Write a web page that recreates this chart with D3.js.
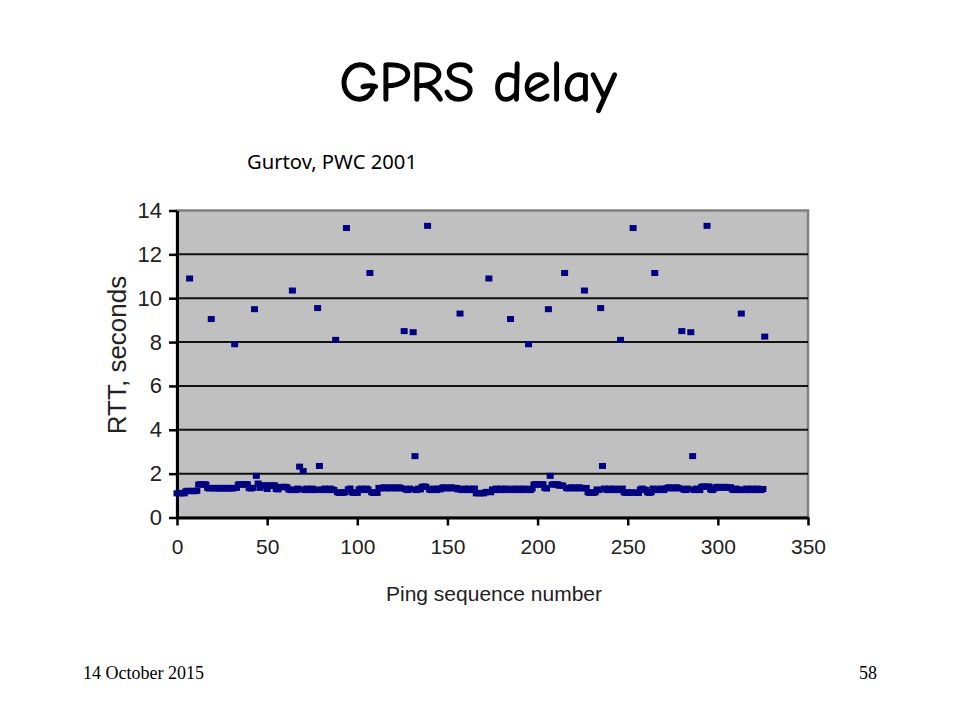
<!DOCTYPE html>
<html>
<head>
<meta charset="utf-8">
<script src="https://cdn.jsdelivr.net/npm/d3@7"></script>
<style>
  html, body { margin: 0; padding: 0; background: #ffffff; }
  svg { display: block; }
</style>
</head>
<body>
<svg id="chart" width="960" height="720"></svg>
<script>
// ---- Data ----
const title = "GPRS delay";
const subtitle = "Gurtov, PWC 2001";
const xLabel = "Ping sequence number";
const yLabel = "RTT, seconds";
const footerDate = "14 October 2015";
const footerPage = "58";

const xTicks = [0, 50, 100, 150, 200, 250, 300, 350];
const yTicks = [0, 2, 4, 6, 8, 10, 12, 14];

// RTT (seconds) for ping sequence numbers 0..326
const rttValues = [
  1.10,1.12,1.10,1.12,1.10,1.20,1.22,10.9,1.20,1.22,
  1.20,1.22,1.50,1.52,1.50,1.52,1.50,1.35,1.32,9.05,
  1.35,1.32,1.35,1.32,1.35,1.32,1.35,1.32,1.35,1.32,
  1.35,1.32,7.9,1.35,1.50,1.52,1.50,1.52,1.50,1.52,
  1.35,1.32,1.35,9.5,1.9,1.55,1.35,1.45,1.47,1.45,
  1.30,1.45,1.47,1.45,1.47,1.30,1.28,1.38,1.40,1.38,
  1.40,1.38,1.28,1.25,10.35,1.28,1.25,1.32,2.32,1.28,
  2.12,1.25,1.32,1.28,1.25,1.32,1.28,1.25,9.55,2.35,
  1.28,1.25,1.32,1.28,1.25,1.32,1.28,1.25,8.1,1.15,
  1.12,1.15,1.12,1.15,13.2,1.28,1.32,1.15,1.12,1.15,
  1.12,1.28,1.32,1.28,1.25,1.32,1.28,11.15,1.15,1.12,
  1.15,1.12,1.35,1.32,1.35,1.38,1.35,1.32,1.35,1.38,
  1.35,1.32,1.35,1.38,1.35,1.32,8.5,1.28,1.25,1.32,
  1.28,8.45,2.8,1.25,1.32,1.28,1.40,1.42,1.40,13.3,
  1.28,1.25,1.32,1.28,1.25,1.32,1.28,1.35,1.38,1.35,
  1.32,1.35,1.38,1.35,1.32,1.35,1.28,9.3,1.25,1.32,
  1.28,1.25,1.32,1.28,1.25,1.32,1.10,1.12,1.10,1.12,
  1.10,1.15,1.17,10.9,1.15,1.28,1.25,1.32,1.28,1.25,
  1.32,1.28,1.25,1.32,1.28,9.05,1.25,1.32,1.28,1.25,
  1.32,1.28,1.25,1.32,1.28,7.9,1.25,1.32,1.50,1.52,
  1.50,1.52,1.50,1.52,1.35,1.32,9.5,1.9,1.50,1.52,
  1.50,1.52,1.45,1.47,1.45,11.15,1.35,1.32,1.35,1.38,
  1.35,1.32,1.35,1.38,1.35,1.32,10.35,1.35,1.15,1.12,
  1.15,1.12,1.15,1.28,1.25,9.55,2.35,1.32,1.28,1.25,
  1.32,1.28,1.25,1.32,1.28,1.25,8.1,1.32,1.15,1.12,
  1.15,1.12,1.15,13.2,1.12,1.15,1.12,1.28,1.32,1.28,
  1.25,1.15,1.12,1.15,1.32,11.15,1.28,1.25,1.32,1.28,
  1.25,1.32,1.35,1.38,1.35,1.32,1.35,1.38,1.35,1.32,
  8.5,1.28,1.25,1.32,1.28,8.45,2.8,1.25,1.32,1.28,
  1.25,1.40,1.42,1.40,13.3,1.42,1.28,1.25,1.32,1.38,
  1.40,1.38,1.35,1.38,1.40,1.38,1.35,1.38,1.28,1.25,
  1.32,1.28,1.25,9.3,1.28,1.25,1.32,1.28,1.25,1.32,
  1.28,1.25,1.32,1.28,1.25,1.30,8.25
];

// ---- Drawing ----
const svg = d3.select("#chart");
const plot = { left: 177, right: 808, top: 210.5, bottom: 517.5 };

const x = d3.scaleLinear().domain([0, 350]).range([plot.left, plot.right]);
const y = d3.scaleLinear().domain([0, 14]).range([plot.bottom, plot.top]);

// Title
svg.append("text")
  .attr("x", 478).attr("y", 101)
  .attr("text-anchor", "middle")
  .attr("font-family", "'Comic Sans MS', 'Comic Neue', 'DejaVu Sans', sans-serif")
  .attr("font-size", 56)
  .attr("textLength", 277)
  .attr("lengthAdjust", "spacingAndGlyphs")
  .attr("fill", "#000")
  .attr("stroke", "#000")
  .attr("stroke-width", 1.4)
  .text(title);

svg.append("text")
  .attr("x", 247).attr("y", 169)
  .attr("font-family", "'Noto Sans', 'Open Sans', sans-serif")
  .attr("font-size", 20)
  .attr("textLength", 170)
  .attr("lengthAdjust", "spacingAndGlyphs")
  .attr("fill", "#000")
  .text(subtitle);

// Plot background
svg.append("rect")
  .attr("x", plot.left).attr("y", plot.top)
  .attr("width", plot.right - plot.left).attr("height", plot.bottom - plot.top)
  .attr("fill", "#c0c0c0")
  .attr("stroke", "#808080")
  .attr("stroke-width", 2.5);

// Gridlines
svg.append("g")
  .selectAll("line")
  .data(yTicks.filter(d => d > 0 && d < 14))
  .join("line")
  .attr("x1", plot.left).attr("x2", plot.right)
  .attr("y1", d => y(d)).attr("y2", d => y(d))
  .attr("stroke", "#111")
  .attr("stroke-width", 2);

// Axes
const fontAxis = "'Liberation Sans', Arial, sans-serif";

const xAxis = svg.append("g")
  .attr("transform", `translate(0,${plot.bottom})`)
  .call(d3.axisBottom(x).tickValues(xTicks).tickSize(8).tickPadding(14).tickSizeOuter(0));
xAxis.select(".domain").attr("stroke", "#000").attr("stroke-width", 3);
xAxis.selectAll(".tick line").attr("stroke", "#000").attr("stroke-width", 2.5);
xAxis.selectAll(".tick text")
  .attr("font-family", fontAxis).attr("font-size", 21).attr("fill", "#222");

const yAxis = svg.append("g")
  .attr("transform", `translate(${plot.left},0)`)
  .call(d3.axisLeft(y).tickValues(yTicks).tickSize(8).tickPadding(7).tickSizeOuter(0));
yAxis.select(".domain").attr("stroke", "#000").attr("stroke-width", 3);
yAxis.selectAll(".tick line").attr("stroke", "#000").attr("stroke-width", 2.5);
yAxis.selectAll(".tick text")
  .attr("font-family", fontAxis).attr("font-size", 22).attr("fill", "#222");

// Axis titles
svg.append("text")
  .attr("x", 494).attr("y", 601)
  .attr("text-anchor", "middle")
  .attr("font-family", fontAxis).attr("font-size", 21).attr("fill", "#222")
  .text(xLabel);

svg.append("text")
  .attr("transform", "translate(126,355) rotate(-90)")
  .attr("text-anchor", "middle")
  .attr("font-family", fontAxis).attr("font-size", 26).attr("fill", "#222")
  .text(yLabel);

// Points
const mw = 7, mh = 6;
svg.append("g")
  .selectAll("rect")
  .data(rttValues.map((v, i) => ({ seq: i, rtt: v })))
  .join("rect")
  .attr("x", d => x(d.seq) - mw / 2)
  .attr("y", d => y(d.rtt) - mh / 2)
  .attr("width", mw).attr("height", mh)
  .attr("fill", "#000080");

// Footer
svg.append("text")
  .attr("x", 83).attr("y", 679)
  .attr("font-family", "'Liberation Serif', 'Times New Roman', serif")
  .attr("font-size", 18).attr("fill", "#000")
  .text(footerDate);

svg.append("text")
  .attr("x", 877).attr("y", 679)
  .attr("text-anchor", "end")
  .attr("font-family", "'Liberation Serif', 'Times New Roman', serif")
  .attr("font-size", 18).attr("fill", "#000")
  .text(footerPage);
</script>
</body>
</html>
